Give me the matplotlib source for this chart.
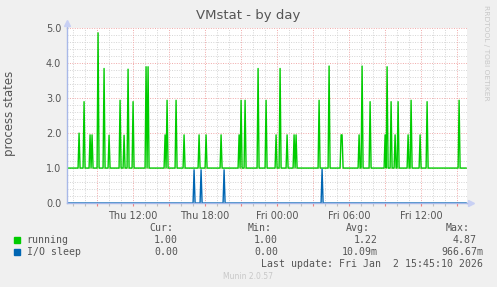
import numpy as np
import matplotlib.pyplot as plt
from matplotlib.ticker import MultipleLocator, FixedLocator

# time in hours since Thu 00:00, 5 minute samples
start_h = 6.5
end_h = 39.75

running_base = 1.0
running_spike_h = [7.5, 7.92, 8.42, 8.58, 9.08, 9.58, 10.0, 10.92, 11.25, 11.58,
                   12.0, 13.08, 13.25, 14.67, 14.83, 15.58, 16.25, 17.5, 18.08,
                   19.33, 20.83, 21.0, 21.33, 22.42, 23.08, 23.92, 24.25, 24.83,
                   25.42, 25.58, 27.5, 28.33, 29.33, 29.42, 30.83, 31.08, 31.75,
                   33.0, 33.17, 33.5, 33.83, 34.08, 34.92, 35.17, 35.92, 36.5, 39.17]
running_spike_v = [2.0, 2.9, 1.95, 1.95, 4.87, 3.85, 1.94, 2.94, 1.94, 3.83,
                   2.9, 3.9, 3.9, 1.95, 2.94, 2.94, 1.95, 1.95, 1.95,
                   1.95, 1.95, 2.94, 2.94, 3.85, 2.94, 1.95, 3.85, 1.95,
                   1.95, 1.95, 2.94, 3.92, 1.95, 1.95, 1.95, 3.92, 2.9,
                   1.95, 3.9, 2.9, 1.95, 2.9, 1.95, 2.94, 1.95, 2.9, 2.94]

io_base = 0.0
io_spike_h = [17.08, 17.67, 19.58, 27.75]
io_spike_v = [0.95, 0.95, 0.95, 0.967]

tick_hours = [12, 18, 24, 30, 36]
tick_labels = ["Thu 12:00", "Thu 18:00", "Fri 00:00", "Fri 06:00", "Fri 12:00"]

legend_names = ["running", "I/O sleep"]
legend_colors = ["#00cc00", "#0066b3"]
legend_cur = ["1.00", "0.00"]
legend_min = ["1.00", "0.00"]
legend_avg = ["1.22", "10.09m"]
legend_max = ["4.87", "966.67m"]


def build_series(base, spike_h, spike_v):
    n = int(round((end_h - start_h) * 12)) + 1
    t = start_h + np.arange(n) / 12.0
    vals = np.full(n, base)
    for h, v in zip(spike_h, spike_v):
        vals[int(round((h - start_h) * 12))] = v
    return t, vals


W, H = 497, 287
fig = plt.figure(figsize=(W / 100, H / 100), dpi=100)
fig.patch.set_facecolor("#f0f0f0")

x0, x1, ytop, ybot = 66.7, 466.7, 28.3, 203.0
ax = fig.add_axes([x0 / W, 1 - ybot / H, (x1 - x0) / W, (ybot - ytop) / H])
ax.set_facecolor("white")

t, running = build_series(running_base, running_spike_h, running_spike_v)
t2, iosleep = build_series(io_base, io_spike_h, io_spike_v)

ax.set_xlim(6.47, 39.8)
ax.set_ylim(0, 5)

# grid
major_x = list(range(9, 40, 3))
for h in major_x:
    ax.axvline(h, color="#f0a8a8", lw=0.7, ls=(0, (1, 1.5)), zorder=1)
for h in range(7, 40):
    if h % 3:
        ax.axvline(h, color="#d4d4d4", lw=0.7, ls=(0, (1, 1.5)), zorder=0.5)
for v in range(1, 6):
    ax.axhline(v, color="#f0a8a8", lw=0.7, ls=(0, (1, 1.5)), zorder=1)
for v in np.arange(0.2, 5, 0.2):
    if abs(v - round(v)) > 0.01:
        ax.axhline(v, color="#d4d4d4", lw=0.7, ls=(0, (1, 1.5)), zorder=0.5)

ax.plot(t, running, color=legend_colors[0], lw=1.0, zorder=3)
ax.plot(t2, iosleep, color=legend_colors[1], lw=1.0, zorder=3)

# x ticks: red every 3h (labels every 6h), grey every hour
ax.xaxis.set_major_locator(FixedLocator(major_x))
ax.xaxis.set_minor_locator(FixedLocator([h for h in range(7, 40) if h % 3]))
ax.set_xticklabels([tick_labels[tick_hours.index(h)] if h in tick_hours else ""
                    for h in major_x])
ax.tick_params(axis="x", which="major", length=2.5, color="#f08080",
               direction="out", width=0.8)
ax.tick_params(axis="x", which="minor", length=2, color="#c0c0c0",
               direction="out", width=0.8)
ax.set_yticks([0, 1, 2, 3, 4, 5])
ax.set_yticklabels(["0.0", "1.0", "2.0", "3.0", "4.0", "5.0"])
ax.tick_params(axis="y", which="both", length=0)
ax.tick_params(axis="both", labelsize=7, labelcolor="#555555", pad=3)
ax.tick_params(axis="y", pad=4)

for s in ["top", "right"]:
    ax.spines[s].set_visible(False)
for s in ["left", "bottom"]:
    ax.spines[s].set_color("#a8b8e8")
    ax.spines[s].set_linewidth(1.0)
    ax.spines[s].set_zorder(4)

# axis extensions and arrows
ax.plot([1.0, 1.005], [0, 0], color="#a8b8e8", lw=1.0, transform=ax.transAxes,
        clip_on=False)
ax.plot([0, 0], [1.0, 1.02], color="#a8b8e8", lw=1.0, transform=ax.transAxes,
        clip_on=False)
ax.plot([1.01], [0], marker=">", color="#c8d0f4", ms=5, transform=ax.transAxes,
        clip_on=False)
ax.plot([0], [1.03], marker="^", color="#c8d0f4", ms=5, transform=ax.transAxes,
        clip_on=False)

fig.text(248 / W, 1 - 15 / H, "VMstat - by day", ha="center", va="center",
         fontsize=9.5, color="#555555")
fig.text(10 / W, 1 - 113 / H, "process states", rotation=90, ha="center",
         va="center", fontsize=8.5, color="#555555")
fig.text(486 / W, 1 - 53 / H, "RRDTOOL / TOBI OETIKER", rotation=270,
         ha="center", va="center", fontsize=5.4, color="#c8c8c8")

mono = dict(family="DejaVu Sans Mono", fontsize=7.1, color="#555555", va="center")
fig.text(161 / W, 1 - 228 / H, "Cur:", ha="center", **mono)
fig.text(260 / W, 1 - 228 / H, "Min:", ha="center", **mono)
fig.text(358 / W, 1 - 228 / H, "Avg:", ha="center", **mono)
fig.text(458 / W, 1 - 228 / H, "Max:", ha="center", **mono)

avg_right = [377.7, 377.3]
max_right = [477, 483]
for i, name in enumerate(legend_names):
    y = 1 - (240 + 12 * i) / H
    fig.patches.append(plt.Rectangle((14 / W, y - 3 / H), 6 / W, 6 / H,
                                     transform=fig.transFigure,
                                     color=legend_colors[i]))
    fig.text(26.7 / W, y, name, ha="left", **mono)
    fig.text(178 / W, y, legend_cur[i], ha="right", **mono)
    fig.text(278 / W, y, legend_min[i], ha="right", **mono)
    fig.text(avg_right[i] / W, y, legend_avg[i], ha="right", **mono)
    fig.text(max_right[i] / W, y, legend_max[i], ha="right", **mono)

fig.text(483 / W, 1 - 264 / H, "Last update: Fri Jan  2 15:45:10 2026",
         ha="right", **mono)
fig.text(248 / W, 1 - 276.5 / H, "Munin 2.0.57", ha="center", va="center",
         fontsize=5.5, color="#c8c8c8")

fig.savefig("out.png", dpi=100, facecolor=fig.get_facecolor())
